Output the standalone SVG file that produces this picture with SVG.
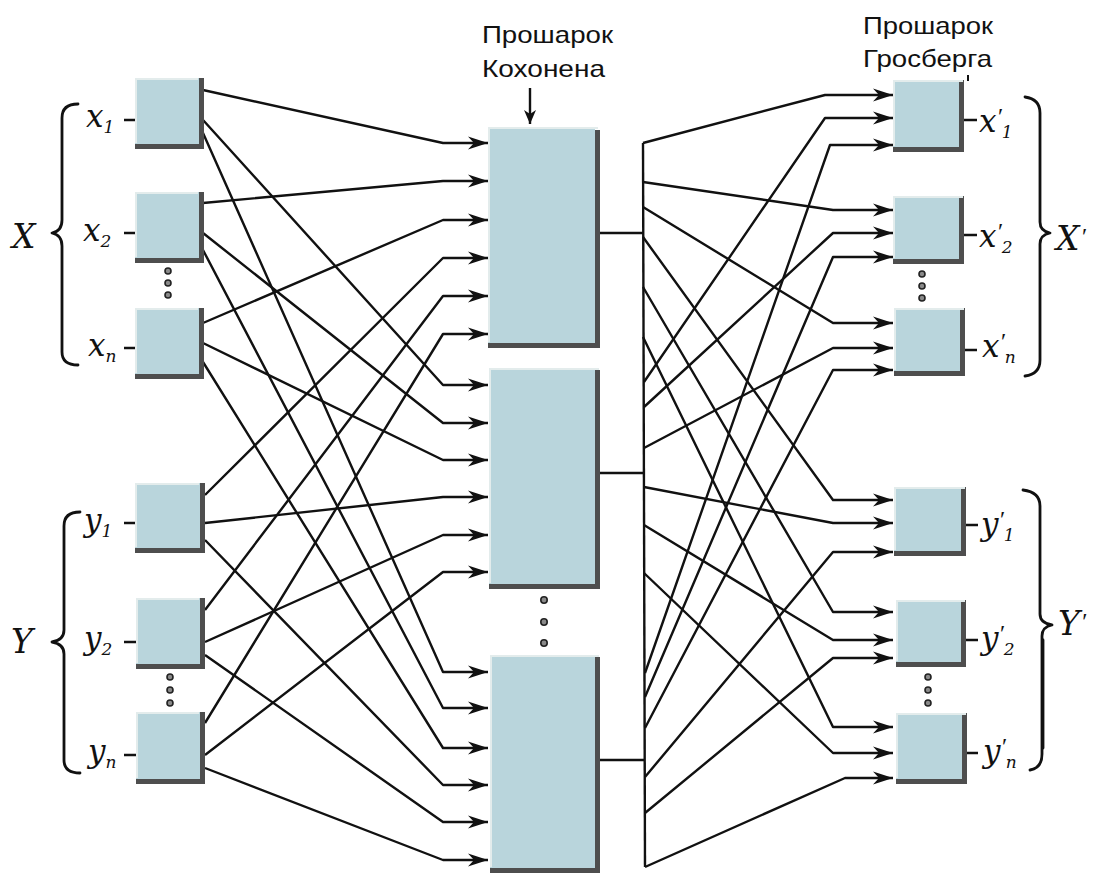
<svg xmlns="http://www.w3.org/2000/svg" width="1098" height="881" viewBox="0 0 1098 881">
  <style>
    .box { fill: #b9d5dc; }
    .edge { fill: none; stroke: #e3ecec; stroke-width: 2; }
    .shade { fill: #4e4e4e; }
    .wire { fill: none; stroke: #111; stroke-width: 2.4; stroke-linejoin: round; }
    .arr { marker-end: url(#ah); }
    .brace { fill: none; stroke: #111; stroke-width: 2.8; stroke-linecap: round; stroke-linejoin: round; }
    .lbl { font-family: "DejaVu Serif", "Liberation Serif", serif; font-style: italic; font-size: 31px; fill: #111; }
    .big { font-size: 33px; }
    .sm { font-size: 17px; }
    .pr { font-family: "Liberation Serif", serif; font-style: italic; font-size: 24px; }
    .title { font-family: "Liberation Sans", Arial, sans-serif; font-size: 24px; fill: #111; }
    .dot { fill: #8a8a8a; stroke: #222; stroke-width: 1.6; }
  </style>
  <defs>
    <marker id="ah" markerUnits="userSpaceOnUse" markerWidth="22" markerHeight="14" refX="20" refY="7" orient="auto">
      <path d="M0,0.5 L20,7 L0,13.5 L6,7 z" fill="#111"/>
    </marker>
    <marker id="ahs" markerUnits="userSpaceOnUse" markerWidth="16" markerHeight="12" refX="14" refY="6" orient="auto">
      <path d="M0,0 L14,6 L0,12 L4,6 z" fill="#111"/>
    </marker>
  </defs>

  <rect width="1098" height="881" fill="#ffffff"/>

  <!-- connectors -->
  <g id="connectors">
    <!-- input stubs -->
    <path class="wire" d="M124,120 L135,120 M124,233 L135,233 M124,348 L135,348 M124,523 L135,523 M124,642 L136,642 M124,755 L136,755"/>
    <!-- input layer to Kohonen layer -->
    <path class="wire arr" d="M203,90 L443,143 L488,143"/>
    <path class="wire arr" d="M203,120 L443,385 L488,385"/>
    <path class="wire arr" d="M203,133 L443,672 L488,672"/>
    <path class="wire arr" d="M203,203 L443,181 L488,181"/>
    <path class="wire arr" d="M203,233 L443,423 L488,423"/>
    <path class="wire arr" d="M203,250 L443,708 L488,708"/>
    <path class="wire arr" d="M203,323 L443,220 L488,220"/>
    <path class="wire arr" d="M203,343 L443,460 L488,460"/>
    <path class="wire arr" d="M203,362 L443,748 L488,748"/>
    <path class="wire arr" d="M205,495 L443,258 L488,258"/>
    <path class="wire arr" d="M205,523 L443,497 L488,497"/>
    <path class="wire arr" d="M205,540 L443,785 L488,785"/>
    <path class="wire arr" d="M205,610 L443,296 L488,296"/>
    <path class="wire arr" d="M205,642 L443,535 L488,535"/>
    <path class="wire arr" d="M205,655 L443,822 L488,822"/>
    <path class="wire arr" d="M205,723 L443,334 L488,334"/>
    <path class="wire arr" d="M205,755 L443,572 L488,572"/>
    <path class="wire arr" d="M205,768 L443,860 L488,860"/>
    <!-- Kohonen outputs and bus -->
    <path class="wire" d="M600,233 L643,233 M600,473 L644,473 M600,760 L645,760"/>
    <path class="wire" stroke-width="2.8" d="M643,143 L645,867"/>
    <!-- Kohonen layer to Grossberg layer -->
    <path class="wire arr" d="M643,143 L825,95 L893,95"/>
    <path class="wire arr" d="M643,182 L833,210 L893,210"/>
    <path class="wire arr" d="M643,207 L833,323 L893,323"/>
    <path class="wire arr" d="M643,237 L833,500 L893,500"/>
    <path class="wire arr" d="M643,287 L833,612 L893,612"/>
    <path class="wire arr" d="M643,337 L833,727 L893,727"/>
    <path class="wire arr" d="M644,382 L825,118 L893,118"/>
    <path class="wire arr" d="M644,407 L833,233 L893,233"/>
    <path class="wire arr" d="M644,448 L833,348 L893,348"/>
    <path class="wire arr" d="M644,487 L833,523 L893,523"/>
    <path class="wire arr" d="M644,525 L833,640 L893,640"/>
    <path class="wire arr" d="M644,573 L833,753 L893,753"/>
    <path class="wire arr" d="M645,673 L830,145 L893,145"/>
    <path class="wire arr" d="M645,697 L833,257 L893,257"/>
    <path class="wire arr" d="M645,728 L833,370 L893,370"/>
    <path class="wire arr" d="M645,777 L833,552 L893,552"/>
    <path class="wire arr" d="M645,813 L833,658 L893,658"/>
    <path class="wire arr" d="M645,867 L845,778 L893,778"/>
    <!-- output stubs -->
    <path class="wire" d="M964,120 L977,120 M964,235 L977,235 M964,350 L977,350 M965,525 L978,525 M965,640 L978,640 M965,753 L978,753"/>
    <!-- layer title pointer -->
    <path class="wire" stroke-width="2.8" marker-end="url(#ahs)" d="M530,88 L530,124"/>
  </g>

  <!-- input layer -->
  <g id="in-x1"><rect class="box" x="135" y="78" width="64" height="66"/><path class="shade" d="M199,78 h5 v71 h-69 v-5 h64 z"/><path class="edge" d="M136,143 V79 H198"/></g>
  <g id="in-x2"><rect class="box" x="135" y="192" width="64" height="66"/><path class="shade" d="M199,192 h5 v71 h-69 v-5 h64 z"/><path class="edge" d="M136,257 V193 H198"/></g>
  <g id="in-xn"><rect class="box" x="135" y="308" width="64" height="66"/><path class="shade" d="M199,308 h5 v71 h-69 v-5 h64 z"/><path class="edge" d="M136,373 V309 H198"/></g>
  <g id="in-y1"><rect class="box" x="135" y="483" width="65" height="65"/><path class="shade" d="M200,483 h5 v70 h-70 v-5 h65 z"/><path class="edge" d="M136,547 V484 H199"/></g>
  <g id="in-y2"><rect class="box" x="136" y="598" width="64" height="66"/><path class="shade" d="M200,598 h5 v71 h-69 v-5 h64 z"/><path class="edge" d="M137,663 V599 H199"/></g>
  <g id="in-yn"><rect class="box" x="136" y="712" width="64" height="67"/><path class="shade" d="M200,712 h5 v72 h-69 v-5 h64 z"/><path class="edge" d="M137,778 V713 H199"/></g>

  <!-- Kohonen layer -->
  <g id="koh-1"><rect class="box" x="488" y="127" width="107" height="216"/><path class="shade" d="M595,130 h5 v218 h-112 v-5 h107 z"/><path class="edge" d="M489,342 V128 H598"/></g>
  <g id="koh-2"><rect class="box" x="489" y="368" width="106" height="216"/><path class="shade" d="M595,370 h5 v219 h-111 v-5 h106 z"/><path class="edge" d="M490,583 V369 H599"/></g>
  <g id="koh-3"><rect class="box" x="490" y="655" width="105" height="213"/><path class="shade" d="M595,657 h5 v216 h-110 v-5 h105 z"/><path class="edge" d="M491,867 V656 H599"/></g>

  <!-- Grossberg layer -->
  <g id="gr-x1"><rect class="box" x="893" y="80" width="66" height="67"/><path class="shade" d="M959,80 h5 v72 h-71 v-5 h66 z"/><path class="edge" d="M894,146 V81 H963"/></g>
  <g id="gr-x2"><rect class="box" x="893" y="196" width="66" height="63"/><path class="shade" d="M959,196 h5 v68 h-71 v-5 h66 z"/><path class="edge" d="M894,258 V197 H963"/></g>
  <g id="gr-xn"><rect class="box" x="894" y="308" width="66" height="63"/><path class="shade" d="M960,308 h5 v68 h-71 v-5 h66 z"/><path class="edge" d="M895,370 V309 H964"/></g>
  <g id="gr-y1"><rect class="box" x="894" y="487" width="67" height="64"/><path class="shade" d="M961,487 h5 v69 h-72 v-5 h67 z"/><path class="edge" d="M895,550 V488 H965"/></g>
  <g id="gr-y2"><rect class="box" x="896" y="600" width="65" height="62"/><path class="shade" d="M961,600 h5 v67 h-70 v-5 h65 z"/><path class="edge" d="M897,661 V601 H965"/></g>
  <g id="gr-yn"><rect class="box" x="896" y="713" width="66" height="66"/><path class="shade" d="M962,713 h5 v71 h-71 v-5 h66 z"/><path class="edge" d="M897,778 V714 H966"/></g>

  <!-- ellipsis dots -->
  <g id="dots">
    <circle class="dot" cx="168" cy="271" r="3"/><circle class="dot" cx="168" cy="283" r="3"/><circle class="dot" cx="168" cy="295" r="3"/>
    <circle class="dot" cx="170" cy="677" r="3"/><circle class="dot" cx="170" cy="690" r="3"/><circle class="dot" cx="170" cy="703" r="3"/>
    <circle class="dot" cx="544" cy="600" r="3.2"/><circle class="dot" cx="544" cy="622" r="3.2"/><circle class="dot" cx="544" cy="643" r="3.2"/>
    <circle class="dot" cx="922" cy="274" r="3"/><circle class="dot" cx="922" cy="286" r="3"/><circle class="dot" cx="922" cy="298" r="3"/>
    <circle class="dot" cx="928" cy="677" r="3"/><circle class="dot" cx="928" cy="690" r="3"/><circle class="dot" cx="928" cy="703" r="3"/>
  </g>

  <!-- braces -->
  <g id="braces">
    <path class="brace" d="M78,104 Q62,104 62,118 L62,220 Q62,231 52,233 Q62,235 62,246 L62,352 Q62,365 78,365"/>
    <path class="brace" d="M80,512 Q64,512 64,526 L64,630 Q64,640 52,642 Q64,644 64,654 L64,760 Q64,773 80,773"/>
    <path class="brace" d="M1025,97 Q1040,99 1040,113 L1040,222 Q1040,231 1050,233 Q1040,235 1040,244 L1040,360 Q1040,374 1025,376"/>
    <path class="brace" d="M1023,490 Q1040,492 1040,506 L1040,614 Q1040,623 1052,625 Q1042,627 1042,636 L1042,754 Q1042,768 1030,770"/>
    <path class="brace" stroke-width="3.8" d="M1043,640 L1043,748"/>
  </g>

  <!-- labels -->
  <g id="labels">
    <text class="lbl big" x="12" y="248">X</text>
    <text class="lbl big" x="11" y="653">Y</text>
    <text class="lbl big" x="1056" y="250">X<tspan class="pr" dx="1" dy="-6">′</tspan></text>
    <text class="lbl big" x="1058" y="635">Y<tspan class="pr" dx="1" dy="-6">′</tspan></text>

    <text class="lbl" x="86" y="127">x<tspan class="sm" dy="6">1</tspan></text>
    <text class="lbl" x="83" y="241">x<tspan class="sm" dy="6">2</tspan></text>
    <text class="lbl" x="88" y="356">x<tspan class="sm" dy="6">n</tspan></text>
    <text class="lbl" x="84" y="531">y<tspan class="sm" dy="6">1</tspan></text>
    <text class="lbl" x="84" y="649">y<tspan class="sm" dy="6">2</tspan></text>
    <text class="lbl" x="88" y="762">y<tspan class="sm" dy="6">n</tspan></text>

    <text class="lbl" x="979" y="132">x<tspan class="pr" dy="-8">′</tspan><tspan class="sm" dy="14">1</tspan></text>
    <text class="lbl" x="979" y="247">x<tspan class="pr" dy="-8">′</tspan><tspan class="sm" dy="14">2</tspan></text>
    <text class="lbl" x="982" y="357">x<tspan class="pr" dy="-8">′</tspan><tspan class="sm" dy="14">n</tspan></text>
    <text class="lbl" x="981" y="535">y<tspan class="pr" dy="-8">′</tspan><tspan class="sm" dy="14">1</tspan></text>
    <text class="lbl" x="981" y="649">y<tspan class="pr" dy="-8">′</tspan><tspan class="sm" dy="14">2</tspan></text>
    <text class="lbl" x="983" y="762">y<tspan class="pr" dy="-8">′</tspan><tspan class="sm" dy="14">n</tspan></text>

    <text class="title" x="482" y="43" textLength="131" lengthAdjust="spacingAndGlyphs">Прошарок</text>
    <text class="title" x="482" y="77" textLength="123" lengthAdjust="spacingAndGlyphs">Кохонена</text>
    <text class="title" x="863" y="34" textLength="130" lengthAdjust="spacingAndGlyphs">Прошарок</text>
    <text class="title" x="863" y="67" textLength="129" lengthAdjust="spacingAndGlyphs">Гросберга</text>
    <path d="M968,75 L968,81" stroke="#111" stroke-width="2"/>
  </g>
</svg>
